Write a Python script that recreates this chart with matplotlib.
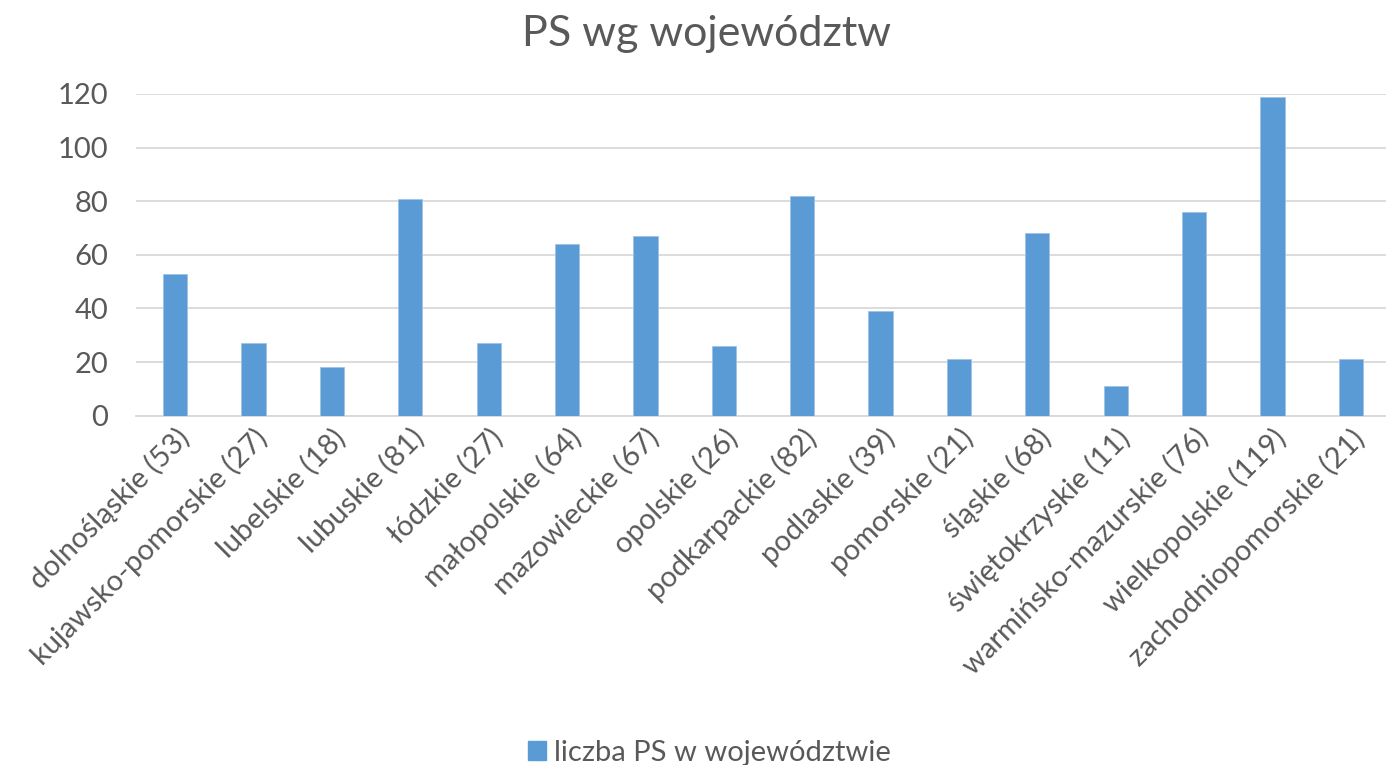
import matplotlib.pyplot as plt
from matplotlib.patches import Patch

# województwa i liczba PS
wojewodztwa = ["dolnośląskie", "kujawsko-pomorskie", "lubelskie", "lubuskie",
               "łódzkie", "małopolskie", "mazowieckie", "opolskie",
               "podkarpackie", "podlaskie", "pomorskie", "śląskie",
               "świętokrzyskie", "warmińsko-mazurskie", "wielkopolskie",
               "zachodniopomorskie"]
liczba_ps = [53, 27, 18, 81, 27, 64, 67, 26, 82, 39, 21, 68, 11, 76, 119, 21]
yticks = [0, 20, 40, 60, 80, 100, 120]

kolor = "#5B9BD5"
tekst = "#595959"
plt.rcParams["font.family"] = ["Lato", "DejaVu Sans"]

fig = plt.figure(figsize=(13.86, 7.65), dpi=100)
ax = fig.add_axes([136 / 1386, 1 - 415.7 / 765, 1254 / 1386, (415.7 - 94) / 765])

x = range(len(wojewodztwa))
ax.bar(x, liczba_ps, width=0.31, color=kolor, edgecolor="#9DC3E6", linewidth=0.6, zorder=3)

ax.set_xlim(-0.5, len(wojewodztwa) - 0.5)
ax.set_ylim(0, 120)
ax.set_yticks(yticks)
ax.yaxis.grid(True, color="#D9D9D9", linewidth=1.3, zorder=0)
for s in ["top", "right", "left"]:
    ax.spines[s].set_visible(False)
ax.spines["bottom"].set_color("#D9D9D9")
ax.spines["bottom"].set_linewidth(1.3)
ax.tick_params(axis="both", length=0, labelsize=21, colors=tekst)
ax.tick_params(axis="y", pad=20)

etykiety = [f"{w} ({n})" for w, n in zip(wojewodztwa, liczba_ps)]
ax.set_xticks(list(x))
ax.set_xticklabels(etykiety, rotation=45, ha="right", va="top", rotation_mode="anchor")
ax.tick_params(axis="x", pad=6)

fig.suptitle("PS wg województw", x=0.51, y=0.98, fontsize=31, color=tekst)

fig.legend(handles=[Patch(color=kolor, label="liczba PS w województwie")],
           loc="lower center", bbox_to_anchor=(0.512, -0.035), frameon=False,
           fontsize=21, labelcolor=tekst, handlelength=0.6, handleheight=0.6,
           handletextpad=0.3)

fig.savefig("out.png", dpi=100)
